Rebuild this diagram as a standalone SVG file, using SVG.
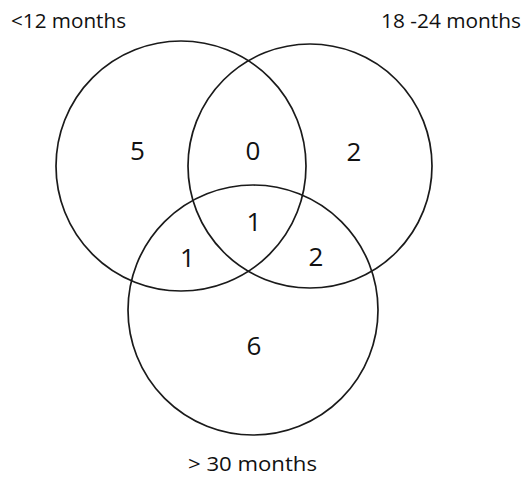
<svg xmlns="http://www.w3.org/2000/svg" width="525" height="477" viewBox="0 0 525 477">
<style>
.c{fill:none;stroke:#1a1a1a;stroke-width:1.7}
.lbl{font-family:"Open Sans","Liberation Sans",sans-serif;font-size:19.5px;fill:#111}
.num{font-family:"Open Sans","Liberation Sans",sans-serif;font-size:26px;fill:#111;text-anchor:middle}
</style>
<rect width="525" height="477" fill="#fff"/>
<g id="set-lt12">
<circle class="c" cx="181" cy="166" r="125"/>
<text class="lbl" x="11" y="27.5" textLength="115" lengthAdjust="spacingAndGlyphs">&lt;12 months</text>
</g>
<g id="set-18-24">
<circle class="c" cx="310" cy="166" r="122"/>
<text class="lbl" x="381" y="27.5" textLength="140" lengthAdjust="spacingAndGlyphs">18 -24 months</text>
</g>
<g id="set-gt30">
<circle class="c" cx="253" cy="310" r="125"/>
<text class="lbl" x="188" y="471" textLength="129" lengthAdjust="spacingAndGlyphs">&gt; 30 months</text>
</g>
<g id="counts">
<text class="num" x="137.5" y="160">5</text>
<text class="num" x="253" y="159.5">0</text>
<text class="num" x="354" y="161">2</text>
<text class="num" x="254" y="230.5">1</text>
<text class="num" x="187.5" y="266.5">1</text>
<text class="num" x="316" y="266">2</text>
<text class="num" x="254" y="355">6</text>
</g>
<g id="connectors"></g>
</svg>
